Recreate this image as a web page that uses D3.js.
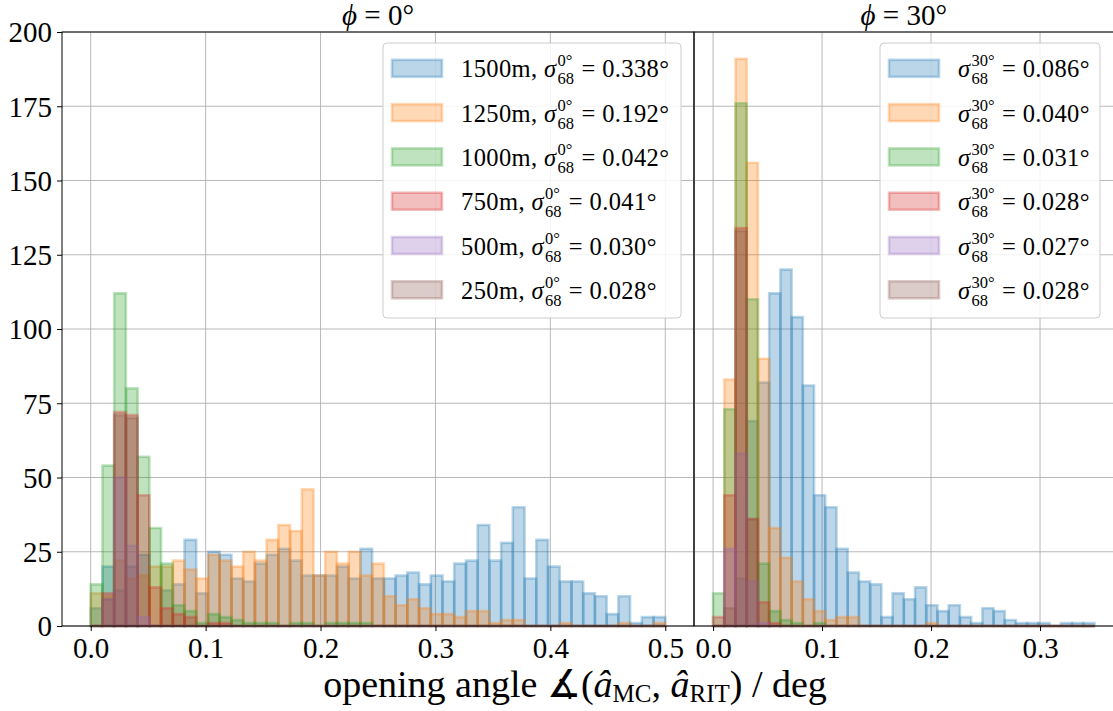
<!DOCTYPE html>
<html><head><meta charset="utf-8">
<script src="https://cdn.jsdelivr.net/npm/d3@7"></script>
<style>body{margin:0;background:#fff}svg{display:block}</style>
</head><body><svg id="c" width="1113" height="711"></svg>
<script>
// ---------- DATA ----------
const seriesNames = ["1500m","1250m","1000m","750m","500m","250m"];
const colors = ["#1f77b4","#ff7f0e","#2ca02c","#d62728","#9467bd","#8c564b"];
const sigma0 = ["0.338","0.192","0.042","0.041","0.030","0.028"];
const sigma30 = ["0.086","0.040","0.031","0.028","0.027","0.028"];
const panelTitles = ["0°","30°"];
const yTicks = [0,25,50,75,100,125,150,175,200];
const xTicksLeft = [0,0.1,0.2,0.3,0.4,0.5];
const xTicksRight = [0,0.1,0.2,0.3];
const binMaxLeft = 0.5, nBinsLeft = 49;
const binMaxRight = 0.35, nBinsRight = 34;

// phi = 0 deg counts (49 bins from 0 to 0.5)
const left1500 = [6,20,12,20,24,0,12,14,29, 11,25,24,16,15,21,24,26,22,17, 17,17,20,16,26,16,16,17,18,14, 17,15,21,22,34,22,28,40,16,29, 20,15,15,11,10,4,10,1,3,3];
const left1250 = [11,10,22,16,17,20,20,22,19, 16,24,22,20,25,22,29,34,32,46, 17,25,21,25,17,21,10,7,9,6, 4,4,3,5,5,1,2,2,0,0, 0,1,0,0,0,0,1,0,0,1];
const left1000 = [14,54,112,80,57,33,21,7,5, 1,4,3,2,1,1,1,0,1,1, 0,1,1,1,1,0,0,0,0,0, 0,0,0,0,0,0,0,0,0,0, 0,0,0,0,0,0,0,0,0,0];
const left750  = [0,11,72,71,44,13,6,4,3, 0,1,1,0,0,0,0,0,0,0, 0,0,0,0,0,0,0,0,0,0, 0,0,0,0,0,0,0,0,0,0, 0,0,0,0,0,0,0,0,0,0];
const left500  = [0,9,50,27,3,0,0,0,0, 0,0,0,0,0,0,0,0,0,0, 0,0,0,0,0,0,0,0,0,0, 0,0,0,0,0,0,0,0,0,0, 0,0,0,0,0,0,0,0,0,0];
const left250  = [0,9,71,70,0,0,0,0,0, 0,0,0,0,0,0,0,0,0,0, 0,0,0,0,0,0,0,0,0,0, 0,0,0,0,0,0,0,0,0,0, 0,0,0,0,0,0,0,0,0,0];

// phi = 30 deg counts (34 bins from 0 to 0.35)
const right1500 = [0,0,16,69,82,112,120,104,81,44, 40,26,18,15,14,3,11,9,13,7, 5,7,3,1,6,5,2,1,1,1, 0,1,1,1];
const right1250 = [0,83,191,156,90,33,23,15,9,5, 2,3,3,0,0,0,0,0,0,1, 0,0,0,0,0,0,0,0,0,0, 0,0,0,0];
const right1000 = [11,73,176,110,21,5,2,1,0,1, 0,0,0,0,0,0,0,0,0,0, 0,0,0,0,0,0,0,0,0,0, 0,0,0,0];
const right750  = [3,44,134,36,8,1,0,0,0,0, 0,0,0,0,0,0,0,0,0,0, 0,0,0,0,0,0,0,0,0,0, 0,0,0,0];
const right500  = [0,26,58,15,1,0,0,0,0,0, 0,0,0,0,0,0,0,0,0,0, 0,0,0,0,0,0,0,0,0,0, 0,0,0,0];
const right250  = [0,6,133,36,0,0,0,0,0,0, 0,0,0,0,0,0,0,0,0,0, 0,0,0,0,0,0,0,0,0,0, 0,0,0,0];

const leftSeries = [left1500,left1250,left1000,left750,left500,left250];
const rightSeries = [right1500,right1250,right1000,right750,right500,right250];

// ---------- LAYOUT ----------
const svg = d3.select("#c");
const FONT = "'Liberation Serif', 'DejaVu Serif', serif";
const plotTop = 32, plotBottom = 626;
const y = d3.scaleLinear().domain([0,200]).range([plotBottom, plotTop]);
const panels = [
  {x: d3.scaleLinear().domain([-0.025, 0.525]).range([62, 694]), data: leftSeries, binMax: binMaxLeft, nBins: nBinsLeft, ticks: xTicksLeft, sig: sigma0, sup: "0°", title: panelTitles[0], legend: {x: 383, w: 298, withName: true}},
  {x: d3.scaleLinear().domain([-0.0175, 0.3675]).range([694, 1113.6]), data: rightSeries, binMax: binMaxRight, nBins: nBinsRight, ticks: xTicksRight, sig: sigma30, sup: "30°", title: panelTitles[1], legend: {x: 880, w: 220, withName: false}}
];

const defs = svg.append("defs");
panels.forEach((p, pi) => {
  const [x0, x1] = p.x.range();
  defs.append("clipPath").attr("id", "clip" + pi).append("rect")
    .attr("x", x0).attr("y", plotTop - 5).attr("width", x1 - x0).attr("height", plotBottom - plotTop + 10);
  const g = svg.append("g");
  // grid
  g.selectAll(".gy").data(yTicks).join("line")
    .attr("x1", x0).attr("x2", x1).attr("y1", d => y(d)).attr("y2", d => y(d))
    .attr("stroke", "#b0b0b0").attr("stroke-width", 0.9);
  g.selectAll(".gx").data(p.ticks).join("line")
    .attr("x1", d => p.x(d)).attr("x2", d => p.x(d)).attr("y1", plotTop).attr("y2", plotBottom)
    .attr("stroke", "#b0b0b0").attr("stroke-width", 0.9);
  // bars
  const edges = d3.range(p.nBins + 1).map(i => i * p.binMax / p.nBins);
  const bars = g.append("g").attr("clip-path", `url(#clip${pi})`);
  p.data.forEach((arr, si) => {
    const sg = bars.append("g");
    sg.selectAll("path").data(arr).join("path")
      .attr("d", (d, i) => {
        const a = p.x(edges[i]), b = p.x(edges[i + 1]), yy = y(d), y0 = y(0);
        return `M${a},${y0}V${yy}H${b}V${y0}Z`;
      })
      .attr("fill", colors[si]).attr("fill-opacity", 0.3)
      .attr("stroke", colors[si]).attr("stroke-opacity", 0.3).attr("stroke-width", 2.6)
      .attr("stroke-linejoin", "miter");
  });
  // spines
  g.append("rect").attr("x", x0).attr("y", plotTop).attr("width", x1 - x0).attr("height", plotBottom - plotTop)
    .attr("fill", "none").attr("stroke", "#000").attr("stroke-width", 1);
  // x axis
  const xa = g.append("g").attr("transform", `translate(0,${plotBottom})`)
    .call(d3.axisBottom(p.x).tickValues(p.ticks).tickSize(5).tickPadding(6).tickFormat(d3.format(".1f")));
  xa.select(".domain").remove();
  xa.selectAll("text").attr("font-family", FONT).attr("font-size", 29).attr("fill", "#000").attr("dy", "0.72em");
  if (pi === 0) {
    const ya = g.append("g").attr("transform", `translate(${x0},0)`)
      .call(d3.axisLeft(y).tickValues(yTicks).tickSize(5).tickPadding(5));
    ya.select(".domain").remove();
    ya.selectAll("text").attr("font-family", FONT).attr("font-size", 29).attr("fill", "#000").attr("dy", "0.34em");
  }
  // title
  const tt = svg.append("text").attr("x", (x0 + x1) / 2).attr("y", 25).attr("text-anchor", "middle")
    .attr("font-family", FONT).attr("font-size", 29).attr("fill", "#000");
  tt.append("tspan").attr("font-style", "italic").text("ϕ");
  tt.append("tspan").text(" = " + p.title);

  // legend
  const L = p.legend;
  const lg = svg.append("g");
  lg.append("rect").attr("x", L.x).attr("y", 43).attr("width", L.w).attr("height", 275).attr("rx", 4)
    .attr("fill", "#fff").attr("fill-opacity", 0.85).attr("stroke", "#cccccc").attr("stroke-width", 1);
  seriesNames.forEach((name, si) => {
    const cy = 68.3 + si * 44.3;
    const sx = L.x + 9;
    lg.append("rect").attr("x", sx).attr("y", cy - 8.5).attr("width", 50).attr("height", 17)
      .attr("fill", colors[si]).attr("fill-opacity", 0.3)
      .attr("stroke", colors[si]).attr("stroke-opacity", 0.3).attr("stroke-width", 2.6);
    const tx = sx + 69, base = cy + 9;
    const t1 = lg.append("text").attr("x", tx).attr("y", base).attr("font-family", FONT).attr("font-size", 24.5)
      .attr("letter-spacing", 0.4).attr("fill", "#000");
    if (L.withName) t1.append("tspan").text(name + ", ");
    t1.append("tspan").attr("font-style", "italic").text("σ");
    const w1 = t1.node().getComputedTextLength();
    const sp = lg.append("text").attr("x", tx + w1 + 1).attr("y", base - 11).attr("font-family", FONT).attr("font-size", 16.5).attr("fill", "#000").text(p.sup);
    const sb = lg.append("text").attr("x", tx + w1 + 1).attr("y", base + 7).attr("font-family", FONT).attr("font-size", 16.5).attr("fill", "#000").text("68");
    const w2 = Math.max(sp.node().getComputedTextLength(), sb.node().getComputedTextLength());
    lg.append("text").attr("x", tx + w1 + w2 + 3).attr("y", base).attr("font-family", FONT).attr("font-size", 24.5)
      .attr("letter-spacing", 0.4).attr("fill", "#000")
      .text("\u2009= " + p.sig[si] + "°");
  });
});

// x label
const xl = svg.append("text").attr("x", 575).attr("y", 697).attr("text-anchor", "middle")
  .attr("font-family", FONT).attr("font-size", 38).attr("fill", "#000");
xl.append("tspan").text("opening angle ∡(");
xl.append("tspan").attr("font-style", "italic").text("â");
xl.append("tspan").attr("font-size", 25).attr("dy", 5).text("MC");
xl.append("tspan").attr("dy", -5).text(", ");
xl.append("tspan").attr("font-style", "italic").text("â");
xl.append("tspan").attr("font-size", 25).attr("dy", 5).text("RIT");
xl.append("tspan").attr("dy", -5).text(") / deg");
</script></body></html>
